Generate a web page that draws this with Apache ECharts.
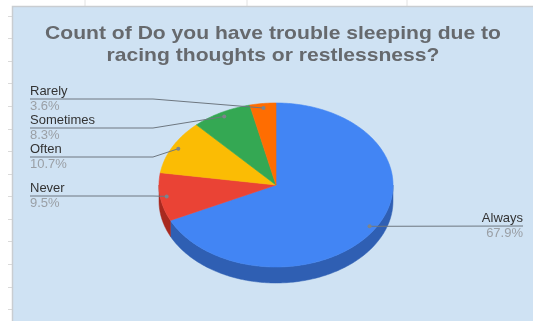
<!DOCTYPE html>
<html>
<head>
<meta charset="utf-8">
<script src="https://cdn.jsdelivr.net/npm/echarts@6/dist/echarts.min.js"></script>
<style>
  html, body { margin: 0; padding: 0; background: #ffffff; }
  #chart { width: 533px; height: 321px; }
</style>
</head>
<body>
<div id="chart"></div>
<script>
// Survey answers and their shares (percent of responses)
const categories = ['Always', 'Never', 'Often', 'Sometimes', 'Rarely'];
const shares = [67.9, 9.5, 10.7, 8.3, 3.6];

// Slice colours: top face and the darker rim
const topColors = ['#4285f4', '#ea4335', '#fbbc04', '#34a853', '#ff6d01'];
const sideColors = ['#2f5fb3', '#a8291f', '#b88a03', '#257a3c', '#b84d01'];

// Vertical position of each label's leader line
const labelLineY = [226, 196, 157, 128, 99];

// Tilted pie geometry
const PIE = { cx: 276, cy: 185, rx: 117, ry: 82, depth: 16 };
const total = shares.reduce((s, v) => s + v, 0);
const starts = [];
{ let acc = 0; shares.forEach(v => { starts.push(acc / total * 360); acc += v; }); }

// angle in degrees, clockwise from 12 o'clock
function pt(deg, k, dy) {
  const r = deg * Math.PI / 180;
  return [PIE.cx + PIE.rx * k * Math.sin(r), PIE.cy - PIE.ry * k * Math.cos(r) + (dy || 0)];
}
function arc(a, b, k, dy) {
  const n = Math.max(2, Math.ceil(Math.abs(b - a)));
  const pts = [];
  for (let i = 0; i <= n; i++) pts.push(pt(a + (b - a) * i / n, k, dy));
  return pts;
}
function span(params, api) {
  const i = params.dataIndex;
  const a = starts[i];
  return [a, a + api.value(0) / total * 360];
}

function renderSide(params, api) {
  const i = params.dataIndex;
  const [a, b] = span(params, api);
  const s = Math.max(a, 90), e = Math.min(b, 270);
  if (e <= s) return null;
  const pts = arc(s, e, 1, 0).concat(arc(e, s, 1, PIE.depth));
  return { type: 'polygon', shape: { points: pts },
           style: { fill: sideColors[i], stroke: sideColors[i], lineWidth: 0.5 } };
}

function renderTop(params, api) {
  const i = params.dataIndex;
  const [a, b] = span(params, api);
  const pts = [[PIE.cx, PIE.cy]].concat(arc(a, b, 1, 0));
  return { type: 'polygon', shape: { points: pts },
           style: { fill: topColors[i], stroke: topColors[i], lineWidth: 0.6 } };
}

function renderLabel(params, api) {
  const i = params.dataIndex;
  const [a, b] = span(params, api);
  const mid = (a + b) / 2;
  const dot = pt(mid, 0.945, 0);
  const y = labelLineY[i];
  const onRight = mid < 180;
  let points, tx, align;
  if (onRight) { points = [dot, [523, y]]; tx = 523; align = 'right'; }
  else { points = [[30, y], [153, y], dot]; tx = 30; align = 'left'; }
  const font = { fontFamily: 'Liberation Sans, Arial, sans-serif', fontSize: 13 };
  return {
    type: 'group',
    children: [
      { type: 'polyline', shape: { points: points },
        style: { stroke: '#6e7780', lineWidth: 1, fill: null } },
      { type: 'circle', shape: { cx: dot[0], cy: dot[1], r: 2 },
        style: { fill: '#7d848c' } },
      { type: 'text', x: tx, y: y - 1,
        style: Object.assign({ text: categories[i], fill: '#333333',
          align: align, verticalAlign: 'bottom' }, font) },
      { type: 'text', x: tx, y: y + 1,
        style: Object.assign({ text: api.value(0).toFixed(1) + '%', fill: '#9a9fa5',
          align: align, verticalAlign: 'top' }, font) }
    ]
  };
}

const data = shares.map((v, i) => ({ name: categories[i], value: v }));

// sheet gridline decorations around the chart box
const deco = [
  { type: 'rect', shape: { x: 0, y: 0, width: 533, height: 321 }, style: { fill: '#ffffff' }, z: -10 }
];
[85, 247, 407].forEach(x => deco.push({ type: 'line', shape: { x1: x, y1: 0, x2: x, y2: 6 },
  style: { stroke: '#e2e2e2', lineWidth: 1 }, z: -9 }));
for (let y = 15.5; y < 321; y += 22.6) {
  deco.push({ type: 'line', shape: { x1: 8, y1: Math.round(y) + 0.5, x2: 12, y2: Math.round(y) + 0.5 },
    style: { stroke: '#dadada', lineWidth: 1 }, z: -9 });
}
deco.push({ type: 'rect', shape: { x: 12.5, y: 6.5, width: 530, height: 320 },
  style: { fill: '#cfe2f3', stroke: '#c9cdd1', lineWidth: 1.5 }, z: -8 });
deco.push({ type: 'text', x: 273, y: 23, scaleX: 1.11,
  style: { text: 'Count of Do you have trouble sleeping due to\nracing thoughts or restlessness?',
    fill: '#66696d', align: 'center', verticalAlign: 'top', lineHeight: 22,
    fontFamily: 'Liberation Sans, Arial, sans-serif', fontSize: 19, fontWeight: 'bold' }, z: -7 });

const chart = echarts.init(document.getElementById('chart'));
chart.setOption({
  animation: false,
  graphic: { elements: deco },
  series: [
    { type: 'custom', coordinateSystem: 'none', silent: true, z: 1, data: data, renderItem: renderSide },
    { type: 'custom', coordinateSystem: 'none', silent: true, z: 2, data: data, renderItem: renderTop },
    { type: 'custom', coordinateSystem: 'none', silent: true, z: 3, data: data, renderItem: renderLabel }
  ]
});
</script>
</body>
</html>
